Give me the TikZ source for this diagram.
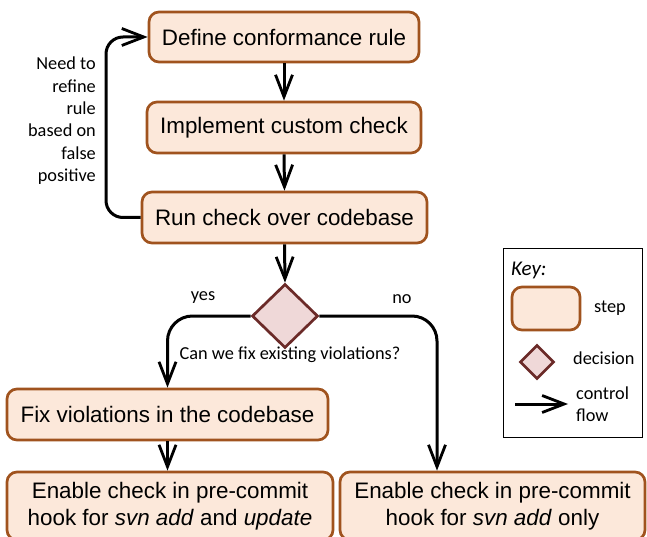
\documentclass[tikz,border=0pt]{standalone}
\usepackage{fontspec}
\setmainfont{Liberation Sans}
\newfontfamily\calib{Carlito}
\usetikzlibrary{shapes.geometric,arrows.meta}

\definecolor{stepfill}{HTML}{FCE8DA}
\definecolor{stepdraw}{HTML}{A0531E}
\definecolor{decfill}{HTML}{EFD8D8}
\definecolor{decdraw}{HTML}{6B2A28}

\tikzset{
  stepbox/.style={draw=stepdraw, fill=stepfill, line width=2.7pt,
    rounded corners=10pt, inner sep=0pt, align=center,
    font=\fontsize{22.4}{26.5}\selectfont},
  decbox/.style={diamond, draw=decdraw, fill=decfill, line width=2.7pt,
    inner sep=0pt},
  flow/.style={line width=3pt,
    -{Straight Barb[length=22pt,width=17pt,line width=2.8pt]}},
  lbl/.style={font=\calib\fontsize{18.3}{22.3}\selectfont, inner sep=0pt},
}

\begin{document}
\begin{tikzpicture}[x=1pt,y=-1pt]
\useasboundingbox (0,0) rectangle (647,537);
\clip (0,0) rectangle (647,537);
\fill[white] (0,0) rectangle (647,537);

% process steps
\node[stepbox, minimum width=270pt, minimum height=50pt] (def) at (284,37) {Define conformance rule};
\node[stepbox, minimum width=274pt, minimum height=51pt] (imp) at (284,127.5) {Implement custom check};
\node[stepbox, minimum width=285pt, minimum height=51pt] (run) at (284.5,217.5) {Run check over codebase};
\node[decbox, minimum width=66pt, minimum height=64pt] (dec) at (285,316) {};
\node[stepbox, minimum width=321pt, minimum height=51pt] (fix) at (167.5,414.5) {Fix violations in the codebase};
\node[stepbox, minimum width=326pt, minimum height=68pt] (enl) at (170,506)
  {Enable check in pre-commit\\[0pt]hook for \textit{svn add} and \textit{update}};
\node[stepbox, minimum width=305pt, minimum height=68pt] (enr) at (492.5,506)
  {Enable check in pre-commit\\[0pt]hook for \textit{svn add} only};

% connectors
\draw[flow] (def.south) -- (imp.north);
\draw[flow] (imp.south) -- (run.north);
\draw[flow] (run.south) -- (dec.north);
\draw[flow] (fix.south) -- (fix.south |- enl.north);
\coordinate (loop) at (106,0);
\draw[flow, rounded corners=17pt] (run.west) -| (loop |- def.west) -- (def.west);
\draw[flow, rounded corners=25pt] (dec.west) -| (fix.north);
\coordinate (nobr) at (437,0);
\draw[flow, rounded corners=25pt] (dec.east) -| (nobr |- enr.north);

% labels
\node[lbl, align=right, anchor=north east] (why) at (96,57)
  {Need to\\refine\\rule\\based on\\false\\positive};
\node[lbl] (yes) at (203,298) {yes};
\node[lbl] (no) at (402,299) {no};
\node[lbl] (q) at (290,355) {Can we fix existing violations?};

% key
\node[draw=black, line width=0.8pt, minimum width=139pt, minimum height=189pt, inner sep=0pt] (key) at (572.5,342.5) {};
\node[lbl, anchor=west, font=\calib\fontsize{21}{25}\selectfont] (keyt) at (511,270) {\itshape Key:};
\node[stepbox, minimum width=68pt, minimum height=43pt] (kstep) at (546,308.5) {};
\node[lbl] (ksteplbl) at (610,308) {step};
\node[decbox, minimum width=34pt, minimum height=34pt] (kdec) at (537,362) {};
\node[lbl, anchor=west] (kdeclbl) at (573,358) {decision};
\coordinate (kfa) at (515,404);
\coordinate (kfb) at (568,404);
\draw[flow] (kfa) -- (kfb);
\node[lbl, anchor=west, align=left] (kflowlbl) at (576,404) {control\\flow};
\end{tikzpicture}
\end{document}
